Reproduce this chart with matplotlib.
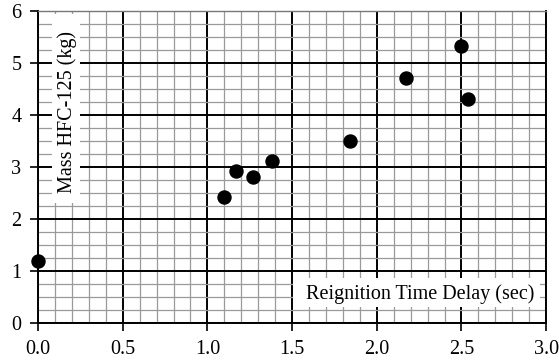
import matplotlib
matplotlib.use("Agg")
import matplotlib.pyplot as plt
from matplotlib.patches import Rectangle
import numpy as np

delay = [0.0, 1.10, 1.17, 1.27, 1.38, 1.84, 2.17, 2.50, 2.54]
mass = [1.2, 2.42, 2.92, 2.81, 3.12, 3.51, 4.72, 5.33, 4.30]

plt.rcParams['font.family'] = ['Liberation Serif', 'DejaVu Serif']

fig = plt.figure(figsize=(5.59, 3.64), dpi=100)
ax = fig.add_axes([0.068, 0.1126, 0.909, 0.857])

ax.set_xlim(0, 3.0)
ax.set_ylim(0, 6)
ax.set_xticks(np.arange(0, 3.01, 0.5))
ax.set_xticklabels(['%.1f' % v for v in np.arange(0, 3.01, 0.5)])
ax.set_yticks(range(0, 7))
ax.set_xticks(np.arange(0, 3.01, 0.1), minor=True)
ax.set_yticks(np.arange(0, 6.01, 0.25), minor=True)

ax.grid(which='minor', color='#9a9a9a', lw=0.9)
ax.grid(which='major', color='black', lw=1.4)
ax.set_axisbelow(True)

ax.tick_params(which='major', direction='out', length=6, width=1.2, labelsize=14.5, pad=6)
ax.tick_params(which='minor', length=0)

for s in ['left', 'bottom', 'right']:
    ax.spines[s].set_linewidth(1.4)
    ax.spines[s].set_color('black')
ax.spines['top'].set_color('#777777')
ax.spines['top'].set_linewidth(1.0)

ax.scatter(delay, mass, s=88, color='black', zorder=3, clip_on=False)

# white boxes behind the in-plot axis labels
ax.add_patch(Rectangle((0.028, 0.385), 0.055, 0.605, transform=ax.transAxes,
                       facecolor='white', edgecolor='none', zorder=2))
ax.add_patch(Rectangle((0.502, 0.051), 0.486, 0.093, transform=ax.transAxes,
                       facecolor='white', edgecolor='none', zorder=2))

ax.text(0.057, 0.677, 'Mass HFC-125 (kg)', transform=ax.transAxes, rotation=90,
        ha='center', va='center', fontsize=14.5, zorder=4)
ax.text(0.752, 0.092, 'Reignition Time Delay (sec)', transform=ax.transAxes,
        ha='center', va='center', fontsize=14.5, zorder=4)

fig.savefig('out.png', dpi=100)
